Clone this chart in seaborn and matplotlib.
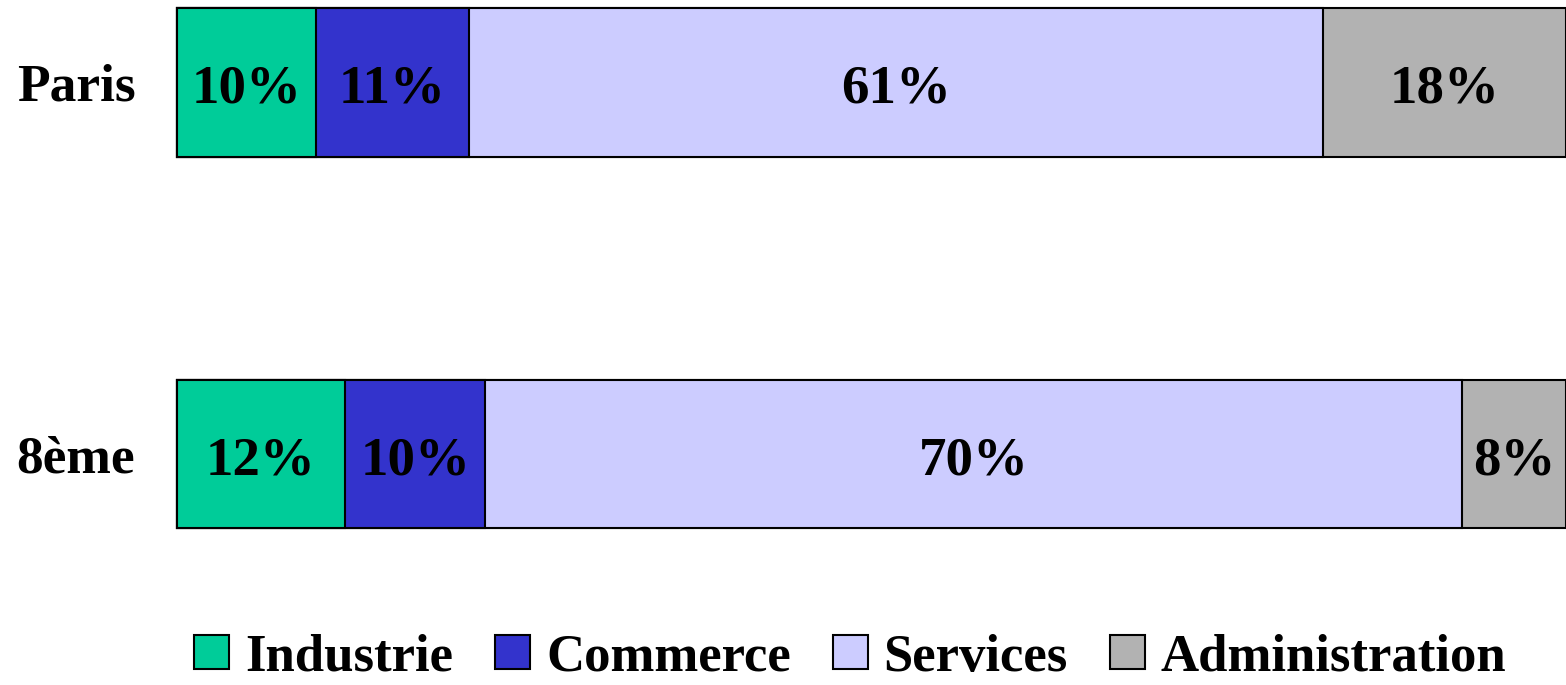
import numpy as np
import pandas as pd
import seaborn as sns
import matplotlib.pyplot as plt
from matplotlib.patches import Patch

sns.set_style("white")
plt.rcParams["font.family"] = ["Liberation Serif", "DejaVu Serif"]
plt.rcParams["font.weight"] = "bold"
plt.rcParams["text.color"] = "black"
plt.rcParams["ytick.color"] = "black"

# data (share of jobs, %)
zones = ["Paris", "8ème"]
sectors = ["Industrie", "Commerce", "Services", "Administration"]
paris = [10.0, 11.0, 61.5, 17.5]
huitieme = [12.1, 10.1, 70.3, 7.5]
labels_paris = ["10%", "11%", "61%", "18%"]
labels_8 = ["12%", "10%", "70%", "8%"]
colors = ["#00CC99", "#3333CC", "#CCCCFF", "#B2B2B2"]

df = pd.DataFrame([paris, huitieme], index=zones, columns=sectors)
cum = df.cumsum(axis=1)

fig = plt.figure(figsize=(15.66, 6.85), dpi=100)
ax = fig.add_axes([0.113, 0.229, 0.887, 0.759])

# stacked bars: draw cumulative totals from the longest down
for sec, col in reversed(list(zip(sectors, colors))):
    d = cum[sec].reset_index()
    d.columns = ["zone", "val"]
    sns.barplot(data=d, x="val", y="zone", orient="h", color=col,
                edgecolor="black", linewidth=1.5, width=0.4, ax=ax,
                saturation=1, clip_on=False)

# segment labels
for i, (z, labs) in enumerate(zip(zones, [labels_paris, labels_8])):
    lefts = cum.loc[z] - df.loc[z]
    for sec, lab in zip(sectors, labs):
        xc = lefts[sec] + df.loc[z, sec] / 2
        ax.text(xc, i + 0.02, lab, ha="center", va="center", fontsize=39.5,
                fontweight="bold", color="black")

ax.set_xlim(0, 100)
ax.set_ylim(1.2, -0.2)
ax.set_xlabel("")
ax.set_ylabel("")
ax.set_xticks([])
ax.tick_params(axis="y", length=0, pad=30, labelsize=38.5)
for t in ax.get_yticklabels():
    t.set_fontweight("bold")
    t.set_color("black")
sns.despine(ax=ax, left=True, bottom=True)

handles = [Patch(facecolor=c, edgecolor="black", linewidth=1.5) for c in colors]
fig.legend(handles, sectors, loc="center", bbox_to_anchor=(0.543, 0.04),
           ncol=4, frameon=False, handlelength=0.66,
           handleheight=0.6, handletextpad=0.3, columnspacing=0.8,
           borderpad=0.0, prop={"weight": "bold", "size": 38})

fig.savefig("out.png", dpi=100)
